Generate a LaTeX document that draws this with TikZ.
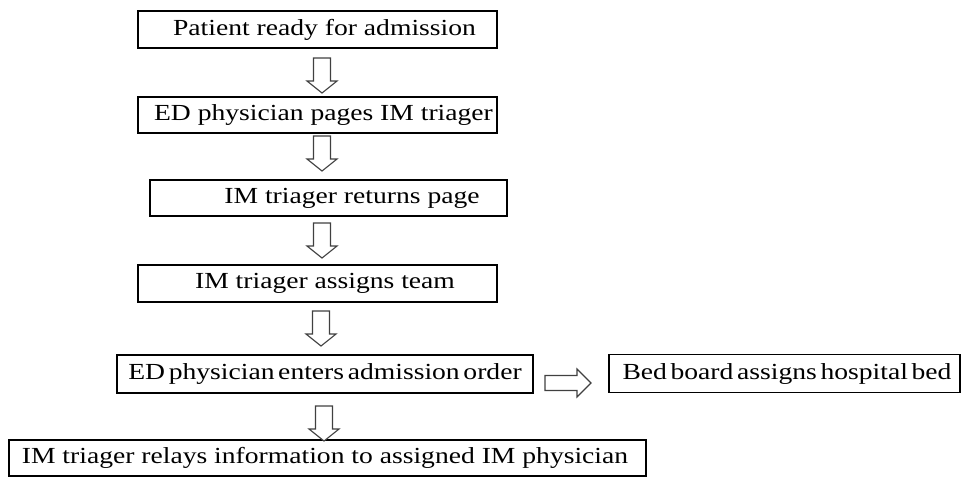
\documentclass[tikz,border=0pt]{standalone}
\usepackage{fontspec}
\setmainfont{Liberation Serif}[FakeStretch=1.2]
\begin{document}
\begin{tikzpicture}[x=1pt,y=1pt,
  stepbox/.style={draw=black, line width=1.7pt, inner sep=0pt, minimum height=37pt,
    font=\fontsize{23}{27}\selectfont},
  blockarrow/.style={draw=black!75, line width=1.1pt, fill=white, line join=miter},
  downarr/.pic={\path[blockarrow] (-8.5,0) -- (8.5,0) -- (8.5,-23) -- (15,-23) -- (0,-35) -- (-15,-23) -- (-8.5,-23) -- cycle;},
  rightarr/.pic={\path[blockarrow] (0,7.5) -- (32,7.5) -- (32,14) -- (46,0) -- (32,-14) -- (32,-7.5) -- (0,-7.5) -- cycle;}
]
\useasboundingbox (0,0) rectangle (961,-477);

\node[stepbox, minimum width=359pt] (b1) at (317.5,-29.5) {\hspace*{14pt}Patient ready for admission};
\node[stepbox, minimum width=359pt, minimum height=36pt] (b2) at (317.5,-115) {\hspace*{12pt}ED physician pages IM triager};
\node[stepbox, minimum width=357pt, minimum height=36pt] (b3) at (328.5,-198) {\hspace*{47pt}IM triager returns page};
\node[stepbox, minimum width=359pt] (b4) at (317.5,-283.5) {\hspace*{15pt}IM triager assigns team};
\node[stepbox, minimum width=416pt, minimum height=38pt] (b5) at (325,-374) {\spaceskip=0.16em\relax ED physician enters admission order};
\node[stepbox, minimum width=351pt, minimum height=38pt] (b6) at (784.5,-373.5) {\spaceskip=0.16em\relax \hspace*{5pt}Bed board assigns hospital bed};
\node[stepbox, minimum width=637pt, minimum height=36pt] (b7) at (327.5,-458) {IM triager relays information to assigned IM physician\hspace*{5pt}};

\pic at (322,-58) {downarr};
\pic at (322,-136) {downarr};
\pic at (322,-223) {downarr};
\pic at (321,-311) {downarr};
\pic at (324,-406) {downarr};
\pic at (545,-383) {rightarr};
\end{tikzpicture}
\end{document}
